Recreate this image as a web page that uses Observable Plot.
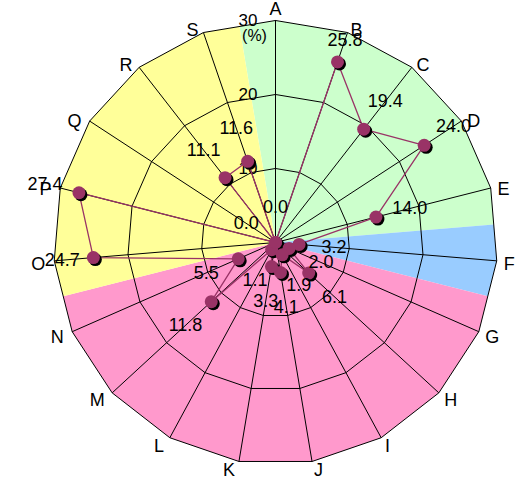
<!DOCTYPE html>
<html>
<head>
<meta charset="utf-8">
<script src="https://cdn.jsdelivr.net/npm/d3@7"></script>
<script src="https://cdn.jsdelivr.net/npm/@observablehq/plot@0.6"></script>
<style>
  html, body { margin: 0; padding: 0; background: #fff; }
  #chart svg { display: block; }
</style>
</head>
<body>
<div id="chart"></div>
<script>
// ---- data ----
const categories = ["A","B","C","D","E","F","G","H","I","J","K","L","M","N","O","P","Q","R","S"];
const values = [0.0, 25.8, 19.4, 24.0, 14.0, 3.2, 2.0, 6.1, 1.9, 4.1, 3.3, 1.1, 11.8, 5.5, 24.7, 27.4, 0.0, 11.1, 11.6];
const ringValues = [10, 20, 30];
const ringLabels = ["10", "20", "30"];
const unitLabel = "(%)";
const zoneMembers = [
  ["A","B","C","D","E"],
  ["F"],
  ["G","H","I","J","K","L","M","N"],
  ["O","P","Q","R","S"]
];

// ---- layout / style ----
const W = 516, H = 481;
const cx = 275, cy = 242, R = 222;
const vmax = d3.max(ringValues);
const k = R / vmax;               // px per unit
const n = categories.length;
const step = 2 * Math.PI / n;
const zoneColors = ["#ccffcc", "#99ccff", "#ff99cc", "#ffff99"];
const seriesColor = "#993366";
const font = "Liberation Sans, Arial, Helvetica, sans-serif";

const ang = i => i * step;
const polar = (v, a) => ({x: v * Math.sin(a), y: v * Math.cos(a)});

// background wedges (polygon shaped)
const edgeMid = vmax * Math.cos(step / 2);
const wedgeMarks = zoneMembers.map((members, zi) => {
  const idx = members.map(c => categories.indexOf(c));
  const first = idx[0], last = idx[idx.length - 1];
  const pts = [{x: 0, y: 0}];
  pts.push(polar(edgeMid, ang(first) - step / 2));
  idx.forEach(i => pts.push(polar(vmax, ang(i))));
  pts.push(polar(edgeMid, ang(last) + step / 2));
  pts.push({x: 0, y: 0});
  return Plot.line(pts, {x: "x", y: "y", fill: zoneColors[zi], stroke: "none", curve: "linear"});
});

// grid rings
const ringPts = [];
ringValues.forEach(v => {
  for (let i = 0; i <= n; i++) ringPts.push({ring: v, ...polar(v, ang(i % n))});
});

// spokes
const spokes = categories.map((c, i) => ({c, ...polar(vmax, ang(i))}));

// series
const pts = categories.map((c, i) => ({c, v: values[i], a: ang(i), ...polar(values[i], ang(i))}));
const loop = [...pts, pts[0]];

// value label radius: 35px outward; kept inside the rim when there is room
const labelOff = 35 / k, rimLimit = vmax - 8 / k, minOff = 20 / k;
const labelR = v => {
  const r = v + labelOff;
  if (r <= rimLimit) return r;
  return (rimLimit - v >= minOff) ? rimLimit : r;
};

const catOff = 6 / k;
const catPts = categories.map((c, i) => {
  const a = ang(i);
  return {c, s: Math.sin(a), ...polar(vmax + catOff, a)};
});

const chart = Plot.plot({
  width: W,
  height: H,
  margin: 0,
  x: {axis: null, domain: [-cx / k, (W - cx) / k], range: [0, W]},
  y: {axis: null, domain: [-(H - cy) / k, cy / k], range: [H, 0]},
  style: {fontFamily: font, background: "#fff", color: "#000"},
  marks: [
    ...wedgeMarks,
    Plot.line(ringPts, {x: "x", y: "y", z: "ring", stroke: "#000", strokeWidth: 1, curve: "linear", strokeLinejoin: "miter"}),
    Plot.link(spokes, {x1: () => 0, y1: () => 0, x2: "x", y2: "y", stroke: "#000", strokeWidth: 1}),
    Plot.text(ringValues.map((v, i) => ({v, label: ringLabels[i]})), {
      x: () => 0, y: "v", text: "label", textAnchor: "end", dx: -18, dy: 0, fontSize: 17, fill: "#000"
    }),
    Plot.text([unitLabel], {x: () => 0, y: () => vmax, text: d => d, dx: -21, dy: 15, fontSize: 16, fill: "#000"}),
    Plot.line(loop, {x: "x", y: "y", stroke: seriesColor, strokeWidth: 1.3, curve: "linear"}),
    Plot.dot(pts, {x: "x", y: "y", r: 6.5, fill: "#000", dx: 2, dy: 2}),
    Plot.dot(pts, {x: "x", y: "y", r: 6.5, fill: seriesColor}),
    // category labels
    Plot.text(catPts.filter(d => d.s > 0.05), {x: "x", y: "y", text: "c", textAnchor: "start", dx: 1, dy: 3, fontSize: 18, fill: "#000"}),
    Plot.text(catPts.filter(d => d.s < -0.05), {x: "x", y: "y", text: "c", textAnchor: "end", dx: -3, dy: 3, fontSize: 18, fill: "#000"}),
    Plot.text(catPts.filter(d => Math.abs(d.s) <= 0.05), {x: "x", y: "y", text: "c", textAnchor: "middle", lineAnchor: "bottom", fontSize: 18, fill: "#000"}),
    // value labels
    Plot.text(pts, {
      x: d => labelR(d.v) * Math.sin(d.a),
      y: d => labelR(d.v) * Math.cos(d.a),
      text: d => d.v.toFixed(1),
      fontSize: 18,
      fill: "#000"
    })
  ]
});

document.getElementById("chart").appendChild(chart);
</script>
</body>
</html>
